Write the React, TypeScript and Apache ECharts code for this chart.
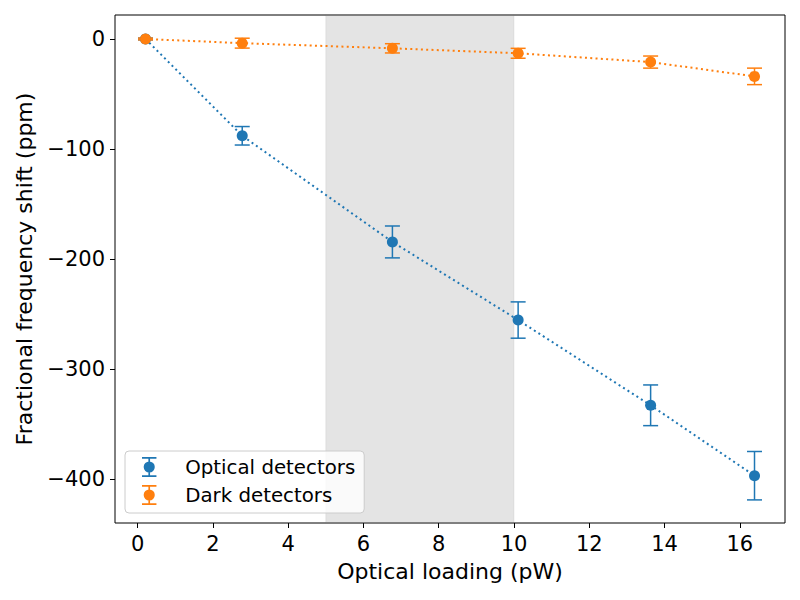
import React, { useEffect, useRef } from "react";
import * as echarts from "echarts";

const loading = [0.21, 2.78, 6.77, 10.11, 13.63, 16.39];
const opticalShift = [0, -88, -184.5, -255.5, -333, -397];
const opticalErr = [0.8, 8.4, 14.5, 16.5, 18.5, 22];
const darkShift = [0, -3.8, -8.5, -13, -21, -34];
const darkErr = [0.8, 4.5, 4.2, 4.5, 5.5, 7.5];
const xTicks = [0, 2, 4, 6, 8, 10, 12, 14, 16];
const yTicks = [0, -100, -200, -300, -400];
const spanStart = 5;
const spanEnd = 10;

const BLUE = "#1f77b4";
const ORANGE = "#ff7f0e";
const FONT = "DejaVu Sans";

const ICON =
  "path://M3.5 1H16.5V2.5H3.5Z M3.5 17.5H16.5V19H3.5Z M9.25 1H10.75V19H9.25Z M15 10A5 5 0 1 1 5 10A5 5 0 1 1 15 10Z";

function errorSeries(name: string, ys: number[], errs: number[], color: string) {
  return {
    type: "custom",
    name,
    z: 3,
    silent: true,
    itemStyle: { color },
    data: loading.map((x, i) => [x, ys[i], errs[i]]),
    encode: { x: 0, y: 1 },
    renderItem: (_params: any, api: any) => {
      const x = api.value(0);
      const y = api.value(1);
      const e = api.value(2);
      const top = api.coord([x, y + e]);
      const bot = api.coord([x, y - e]);
      const half = 7.5;
      const style = { stroke: color, lineWidth: 1.5 };
      return {
        type: "group",
        children: [
          { type: "line", shape: { x1: top[0], y1: top[1], x2: bot[0], y2: bot[1] }, style },
          { type: "line", shape: { x1: top[0] - half, y1: top[1], x2: top[0] + half, y2: top[1] }, style },
          { type: "line", shape: { x1: bot[0] - half, y1: bot[1], x2: bot[0] + half, y2: bot[1] }, style },
        ],
      };
    },
  };
}

function lineSeries(name: string, ys: number[], color: string) {
  return {
    type: "line",
    name,
    z: 4,
    data: loading.map((x, i) => [x, ys[i]]),
    symbol: "circle",
    symbolSize: 11,
    showSymbol: true,
    itemStyle: { color },
    lineStyle: { color, width: 2, type: [2, 3.3] },
    emphasis: { disabled: true },
  };
}

const minusFmt = (v: number) => (v < 0 ? "\u2212" + Math.abs(v) : String(v));

export default function App() {
  const ref = useRef<HTMLDivElement>(null);
  useEffect(() => {
    if (!ref.current) return;
    const chart = echarts.init(ref.current, null, { renderer: "svg" });
    chart.setOption({
      animation: false,
      backgroundColor: "#ffffff",
      textStyle: { fontFamily: FONT, color: "#000" },
      grid: {
        left: 115,
        right: 15,
        top: 15,
        bottom: 77,
        show: true,
        borderColor: "#000",
        borderWidth: 1,
        backgroundColor: "transparent",
      },
      xAxis: {
        type: "value",
        min: -0.6,
        max: 17.2,
        name: "Optical loading (pW)",
        nameLocation: "middle",
        nameGap: 37,
        nameTextStyle: { fontSize: 22, fontFamily: FONT, color: "#000" },
        axisLine: { show: false, onZero: false },
        splitLine: { show: false },
        axisTick: { show: true, customValues: xTicks, length: 5, lineStyle: { color: "#000", width: 1 } },
        axisLabel: {
          customValues: xTicks,
          fontSize: 21,
          fontFamily: FONT,
          color: "#000",
          margin: 10,
        },
      },
      yAxis: {
        type: "value",
        min: -440,
        max: 21.8,
        name: "Fractional frequency shift (ppm)",
        nameLocation: "middle",
        nameGap: 80,
        nameTextStyle: { fontSize: 22, fontFamily: FONT, color: "#000" },
        axisLine: { show: false, onZero: false },
        splitLine: { show: false },
        axisTick: { show: true, customValues: yTicks, length: 5, lineStyle: { color: "#000", width: 1 } },
        axisLabel: {
          customValues: yTicks,
          fontSize: 21,
          fontFamily: FONT,
          color: "#000",
          margin: 10,
          formatter: minusFmt,
        },
      },
      legend: {
        orient: "vertical",
        left: 125,
        top: 451,
        padding: [6, 9, 8, 17],
        itemWidth: 20,
        itemHeight: 20,
        itemGap: 8,
        backgroundColor: "rgba(255,255,255,0.8)",
        borderColor: "#cccccc",
        borderWidth: 1,
        borderRadius: 4,
        selectedMode: false,
        textStyle: { fontSize: 19.8, fontFamily: FONT, color: "#000", padding: [0, 0, 0, 21] },
        data: [
          { name: "Optical detectors", icon: ICON, itemStyle: { color: BLUE } },
          { name: "Dark detectors", icon: ICON, itemStyle: { color: ORANGE } },
        ],
      },
      series: [
        {
          type: "line",
          name: "span",
          data: [],
          z: 1,
          silent: true,
          markArea: {
            silent: true,
            itemStyle: { color: "rgba(128,128,128,0.21)", borderColor: "rgba(128,128,128,0.12)", borderWidth: 1 },
            data: [[{ xAxis: spanStart }, { xAxis: spanEnd }]],
          },
        },
        errorSeries("Optical detectors", opticalShift, opticalErr, BLUE),
        lineSeries("Optical detectors", opticalShift, BLUE),
        errorSeries("Dark detectors", darkShift, darkErr, ORANGE),
        lineSeries("Dark detectors", darkShift, ORANGE),
      ],
    });
    return () => chart.dispose();
  }, []);
  return (
    <div
      ref={ref}
      style={{ position: "fixed", left: 0, top: 0, width: 800, height: 600 }}
    />
  );
}
